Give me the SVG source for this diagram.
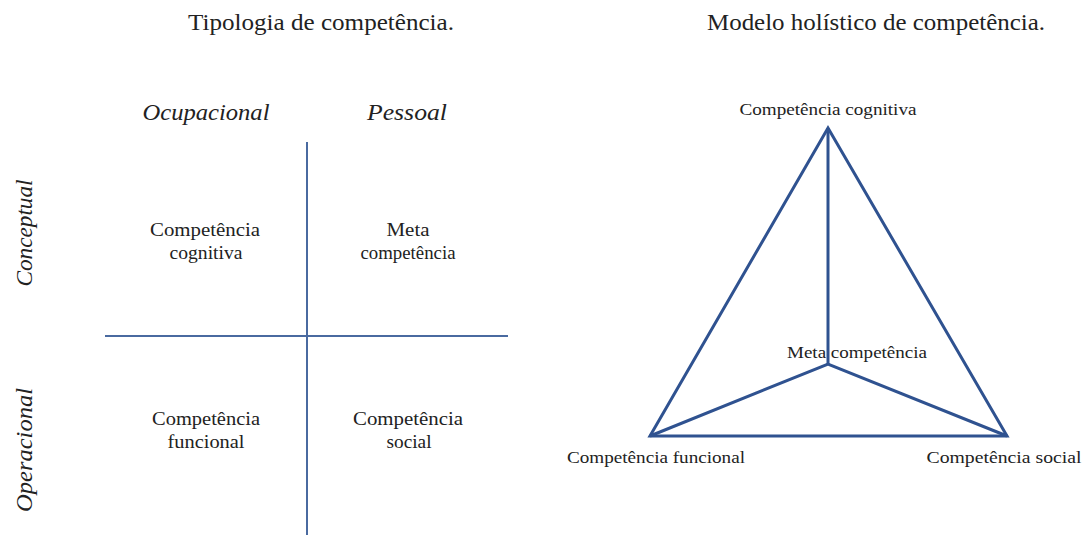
<svg xmlns="http://www.w3.org/2000/svg" width="1083" height="535" viewBox="0 0 1083 535">
<style>
text{font-family:"Liberation Serif","Times New Roman",serif;fill:#222;text-anchor:middle}
.t{font-size:23px}
.h{font-size:24px;font-style:italic}
.c{font-size:19px}
.s{font-size:16px}
.ax{stroke:#4a6aa0;stroke-width:2;fill:none}
.tr{stroke:#2f5290;stroke-width:3;fill:none;stroke-linejoin:miter}
</style>
<rect width="1083" height="535" fill="#fff"/>
<text class="t" x="321" y="30" textLength="266" lengthAdjust="spacingAndGlyphs">Tipologia de competência.</text>
<text class="t" x="876" y="30" textLength="338" lengthAdjust="spacingAndGlyphs">Modelo holístico de competência.</text>
<g id="connectors">
<line class="ax" x1="307" y1="142" x2="307" y2="535"/>
<line class="ax" x1="105" y1="336" x2="508" y2="336"/>
<polygon class="tr" points="828,128 650,436 1007,436"/>
<polyline class="tr" points="828,128 828,364"/>
<polyline class="tr" points="650,436 828,364 1007,436"/>
</g>
<g id="col-ocupacional"><text class="h" x="206" y="120" textLength="127" lengthAdjust="spacingAndGlyphs">Ocupacional</text></g>
<g id="col-pessoal"><text class="h" x="407" y="120" textLength="80" lengthAdjust="spacingAndGlyphs">Pessoal</text></g>
<g id="row-conceptual"><text class="h" transform="translate(32,233) rotate(-90)" textLength="107" lengthAdjust="spacingAndGlyphs">Conceptual</text></g>
<g id="row-operacional"><text class="h" transform="translate(32,450) rotate(-90)" textLength="124" lengthAdjust="spacingAndGlyphs">Operacional</text></g>
<g id="q-cognitiva"><text class="c" x="205" y="236" textLength="110" lengthAdjust="spacingAndGlyphs">Competência</text><text class="c" x="206" y="259" textLength="73" lengthAdjust="spacingAndGlyphs">cognitiva</text></g>
<g id="q-meta"><text class="c" x="408" y="236" textLength="43" lengthAdjust="spacingAndGlyphs">Meta</text><text class="c" x="408" y="259" textLength="95" lengthAdjust="spacingAndGlyphs">competência</text></g>
<g id="q-funcional"><text class="c" x="206" y="425" textLength="108" lengthAdjust="spacingAndGlyphs">Competência</text><text class="c" x="206" y="448" textLength="77" lengthAdjust="spacingAndGlyphs">funcional</text></g>
<g id="q-social"><text class="c" x="408" y="425" textLength="110" lengthAdjust="spacingAndGlyphs">Competência</text><text class="c" x="409" y="448" textLength="45" lengthAdjust="spacingAndGlyphs">social</text></g>
<g id="t-cognitiva"><text class="s" x="828" y="115" textLength="177" lengthAdjust="spacingAndGlyphs">Competência cognitiva</text></g>
<g id="t-meta"><text class="s" x="857" y="358" textLength="140" lengthAdjust="spacingAndGlyphs">Meta competência</text></g>
<g id="t-funcional"><text class="s" x="656" y="463" textLength="178" lengthAdjust="spacingAndGlyphs">Competência funcional</text></g>
<g id="t-social"><text class="s" x="1004" y="463" textLength="155" lengthAdjust="spacingAndGlyphs">Competência social</text></g>
</svg>
